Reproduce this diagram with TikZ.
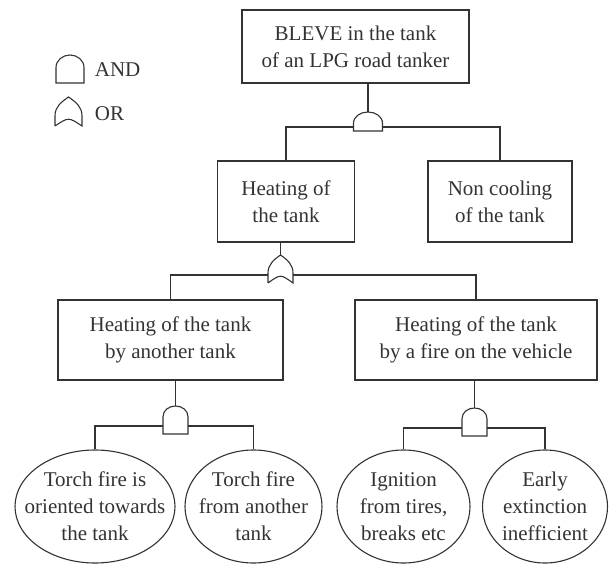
\documentclass[tikz,border=0pt]{standalone}
\usepackage{fontspec}
\setmainfont{Liberation Serif}
\usetikzlibrary{shapes.geometric, calc}
\tikzset{box/.style={draw, rectangle, align=center, inner sep=0pt, minimum height=81pt},
	event/.style={draw, ellipse, inner sep=0pt, minimum height=113pt},
	evtext/.style={align=center},
	gate/.style={rectangle, inner sep=0pt, outer sep=0pt}}
\newcommand{\andgate}[2][0.55]{%
	\draw (#2.south west) -- ($(#2.south west)!#1!(#2.north west)$)
	to[out=90,in=180] (#2.north)
	to[out=0,in=90] ($(#2.south east)!#1!(#2.north east)$)
	-- (#2.south east) -- cycle;}
\newcommand{\orgate}[1]{%
	\draw (#1.south west) -- ($(#1.south west)!0.35!(#1.north west)$)
	to[out=90,in=215] (#1.north)
	to[out=-35,in=90] ($(#1.south east)!0.35!(#1.north east)$)
	-- (#1.south east) .. controls ($(#1.south)+(0,9)$) .. (#1.south west);}

\begin{document}
\begin{tikzpicture}
    [x=1pt, y=1pt, line width=1.1pt, color=black!80,
    every node/.style={font=\fontsize{21}{27}\selectfont}]
    \useasboundingbox (0,0) rectangle (609,565);
    % legend
    \node[gate, minimum width=28pt, minimum height=28pt] (lA) at (70,496) {};
    \node[anchor=west] (lAtext) at (91,495) {AND};
    \node[gate, minimum width=27pt, minimum height=29pt] (lO) at (68.5,453.5) {};
    \node[anchor=west] (lOtext) at (91,451) {OR};
    \andgate{lA}
    \orgate{lO}
    % events
    \node[box, minimum width=227pt, minimum height=73pt] (top) at (355.5,518.5) {BLEVE in the tank\\of an LPG road tanker};
    \node[gate, minimum width=29pt, minimum height=19pt] (gA) at (368,443.5) {};
    \node[box, minimum width=137pt] (heat) at (286,363.5) {Heating of\\the tank};
    \node[box, minimum width=144pt] (cool) at (500,363.5) {Non cooling\\of the tank};
    \node[gate, minimum width=25pt, minimum height=28pt] (gB) at (280.5,296) {};
    \node[box, minimum width=225pt, minimum height=80pt] (byother) at (170.5,225) {Heating of the tank\\by another tank};
    \node[box, minimum width=242pt, minimum height=80pt] (byfire) at (476,225) {Heating of the tank\\by a fire on the vehicle};
    \node[gate, minimum width=25pt, minimum height=28pt] (gC) at (175.5,145) {};
    \node[gate, minimum width=25pt, minimum height=28pt] (gD) at (474.5,143) {};
    \node[event, minimum width=160pt, label={[evtext]center:Torch fire is\\oriented towards\\the tank}] (torch) at (95,58.5) {};
    \node[event, minimum width=137pt, label={[evtext]center:Torch fire\\from another\\tank}] (fromother) at (253.5,58.5) {};
    \node[event, minimum width=133pt, label={[evtext]center:Ignition\\from tires,\\breaks etc}] (ignition) at (403.5,58.5) {};
    \node[event, minimum width=125pt, label={[evtext]center:Early\\extinction\\inefficient}] (early) at (545,58.5) {};
    \andgate[0.4]{gA}
    \orgate{gB}
    \andgate[0.62]{gC}
    \andgate[0.62]{gD}
    % connectors
    \draw (top.south -| gA.north) -- (gA.north);
    \draw ($(gA.south west)+(0,4)$) -| (heat.north);
    \draw ($(gA.south east)+(0,4)$) -| (cool.north);
    \draw (heat.south -| gB.north) -- (gB.north);
    \draw ($(gB.south west)+(0,8)$) -| (byother.north);
    \draw ($(gB.south east)+(0,8)$) -| (byfire.north);
    \draw (byother.south -| gC.north) -- (gC.north);
    \draw ($(gC.south west)+(0,8)$) -| (torch.north);
    \draw ($(gC.south east)+(0,8)$) -| (fromother.north);
    \draw (byfire.south -| gD.north) -- (gD.north);
    \draw ($(gD.south west)+(0,8)$) -| (ignition.north);
    \draw ($(gD.south east)+(0,8)$) -| (early.north);
\end{tikzpicture}
\end{document}
